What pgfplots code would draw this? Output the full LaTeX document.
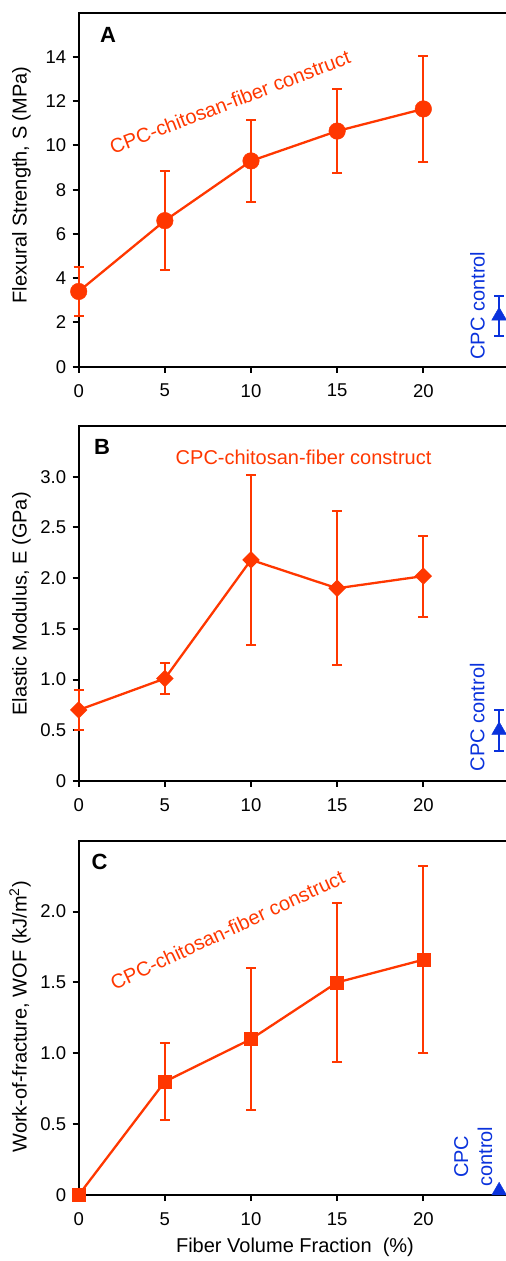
\documentclass[border=0pt]{standalone}
\usepackage{fontspec}
\setmainfont{Liberation Sans}
\usepackage{pgfplots}
\pgfplotsset{compat=1.18}
\definecolor{cpc}{RGB}{255,55,0}
\definecolor{ctrl}{RGB}{10,50,220}
\newcommand\lab{\fontsize{20}{24}\selectfont}
\newcommand\tlab{\fontsize{18.5}{20}\selectfont}
\pgfplotsset{
  panel/.style={
    scale only axis, width=448pt,
    xmin=0, xmax=26, xtick={0,5,10,15,20},
    axis line style={line width=2pt},
    tick style={line width=2pt, black}, tick align=outside, major tick length=6pt,
    xtick pos=lower, ytick pos=left, minor tick num=0,
    clip=false,
    /pgf/number format/assume math mode=true,
    tick label style={font=\tlab},
    xticklabel style={yshift=-8pt},
    yticklabel style={xshift=-3pt},
  },
  series/.style={cpc, line width=2.3pt, mark options={line width=0.4pt, fill=cpc, solid},
    error bars/y dir=both, error bars/y explicit,
    error bars/error bar style={line width=2pt, cpc},
    error bars/error mark options={rotate=90, line width=2pt, mark size=5pt, cpc}},
  control/.style={ctrl, only marks, mark=triangle*, mark size=8.5pt, mark options={line width=0.4pt, fill=ctrl},
    error bars/y dir=both, error bars/y explicit,
    error bars/error bar style={line width=2pt, ctrl},
    error bars/error mark options={rotate=90, line width=2pt, mark size=5pt, ctrl}},
}
\begin{document}
\begin{tikzpicture}
\useasboundingbox (0pt,0pt) rectangle (506pt,1261pt);
% ---------- A ----------
\begin{axis}[panel, at={(78.7pt,894.3pt)}, anchor=south west, height=354pt,
  ymin=0, ymax=16, ytick={0,2,...,14}]
\addplot[series, mark=*, mark size=8.3pt] coordinates {
 (0,3.4) +- (0,1.1)
 (5,6.6) +- (0,2.25)
 (10,9.3) +- (0,1.84)
 (15,10.65) +- (0,1.9)
 (20,11.65) +- (0,2.4)
};
\addplot[control] coordinates {(24.4,2.3) +- (0,0.9)};
\node[cpc, rotate=21, font=\lab] at (axis cs:8.78,11.97) {CPC-chitosan-fiber construct};
\node[ctrl, rotate=90, font=\lab] at (axis cs:23.15,2.76) {CPC control};
\end{axis}
% ---------- B ----------
\begin{axis}[panel, at={(78.7pt,480pt)}, anchor=south west, height=355pt,
  ymin=0, ymax=3.5, ytick={0,0.5,...,3.0}, yticklabels={0,0.5,1.0,1.5,2.0,2.5,3.0}]
\addplot[series, mark=square*, mark size=5pt, mark options={rotate=45}] coordinates {
 (0,0.70) +- (0,0.2)
 (5,1.01) +- (0,0.15)
 (10,2.18) +- (0,0.84)
 (15,1.90) +- (0,0.76)
 (20,2.02) +- (0,0.40)
};
\addplot[control] coordinates {(24.4,0.5) +- (0,0.2)};
\node[cpc, font=\lab] at (axis cs:13.05,3.19) {CPC-chitosan-fiber construct};
\node[ctrl, rotate=90, font=\lab] at (axis cs:23.13,0.63) {CPC control};
\end{axis}
% ---------- C ----------
\begin{axis}[panel, at={(78.7pt,66pt)}, anchor=south west, height=354.3pt,
  ymin=0, ymax=2.5, ytick={0,0.5,...,2.0}, yticklabels={0,0.5,1.0,1.5,2.0}]
\addplot[series, mark=square*, mark size=6.5pt] coordinates {
 (0,0) +- (0,0)
 (5,0.80) +- (0,0.27)
 (10,1.10) +- (0,0.50)
 (15,1.50) +- (0,0.56)
 (20,1.66) +- (0,0.66)
};
\addplot[ctrl, only marks, mark=triangle*, mark size=8.5pt, mark options={line width=0.4pt, fill=ctrl}] coordinates {(24.4,0.03)};
\node[cpc, rotate=25, font=\lab] at (axis cs:8.63,1.87) {CPC-chitosan-fiber construct};
\node[ctrl, rotate=90, font=\lab, align=center] at (axis cs:22.9,0.27) {CPC\\control};
\end{axis}
% ---------- labels ----------
\node[rotate=90, anchor=base, font=\lab] at (26.7pt,1076pt) {Flexural Strength, S (MPa)};
\node[rotate=90, anchor=base, font=\lab] at (26.7pt,657pt) {Elastic Modulus, E (GPa)};
\node[rotate=90, anchor=base, font=\lab] at (26.7pt,244.3pt) {Work-of-fracture, WOF (kJ/m\textsuperscript{2})};
\node[anchor=base, font=\lab] at (295pt,9pt) {Fiber Volume Fraction\ \ (\%)};
\node[anchor=base, font=\fontsize{22}{26}\selectfont\bfseries] at (108pt,1218.3pt) {A};
\node[anchor=base, font=\fontsize{22}{26}\selectfont\bfseries] at (102pt,806.7pt) {B};
\node[anchor=base, font=\fontsize{22}{26}\selectfont\bfseries] at (99.5pt,391.7pt) {C};
\end{tikzpicture}
\end{document}
